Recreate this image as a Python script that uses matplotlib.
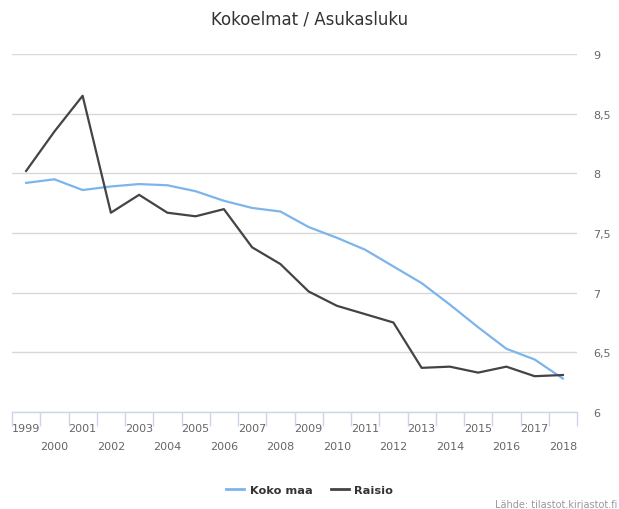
import matplotlib
matplotlib.use("Agg")
import matplotlib.pyplot as plt
import numpy as np
from matplotlib.ticker import FuncFormatter, FixedLocator
from matplotlib.lines import Line2D

years = [str(y) for y in range(1999, 2019)]
koko_maa = [7.92, 7.95, 7.86, 7.89, 7.91, 7.90, 7.85, 7.77, 7.71, 7.68,
            7.55, 7.46, 7.36, 7.22, 7.08, 6.90, 6.71, 6.53, 6.44, 6.28]
raisio = [8.02, 8.35, 8.65, 7.67, 7.82, 7.67, 7.64, 7.70, 7.38, 7.24,
          7.01, 6.89, 6.82, 6.75, 6.37, 6.38, 6.33, 6.38, 6.30, 6.31]
y_ticks = [6, 6.5, 7, 7.5, 8, 8.5, 9]

W, H = 619, 510
fig = plt.figure(figsize=(W / 100, H / 100), dpi=100)
ax = fig.add_axes([12 / W, 1 - 413 / H, (577 - 12) / W, (413 - 55) / H])

x = np.arange(len(years))
ax.plot(x, koko_maa, color="#7cb5ec", lw=1.6, solid_joinstyle="round", zorder=3)
ax.plot(x, raisio, color="#434348", lw=1.6, solid_joinstyle="round", zorder=4)

ax.set_xlim(-0.5, len(years) - 0.5)
ax.set_ylim(6, 9)

# y axis on right
ax.yaxis.tick_right()
ax.yaxis.set_major_locator(FixedLocator(y_ticks))
ax.yaxis.set_major_formatter(FuncFormatter(lambda v, p: f"{v:g}".replace(".", ",")))
ax.tick_params(axis="y", length=0, pad=11.5, labelsize=8, labelcolor="#666666")
ax.grid(axis="y", color="#d8d8d8", lw=1)
ax.set_axisbelow(True)

# x axis
ax.set_xticks(x)
labels = [y if i % 2 == 0 else "\n" + y for i, y in enumerate(years)]
ax.set_xticklabels(labels)
ax.set_xticks(np.arange(-0.5, len(years), 1), minor=True)
ax.tick_params(axis="x", which="major", length=0, pad=8, labelsize=8, labelcolor="#666666")
ax.tick_params(axis="x", which="minor", length=10, width=1, color="#ccd6eb")
for lbl in ax.get_xticklabels():
    lbl.set_linespacing(1.95)

for s in ["top", "left", "right"]:
    ax.spines[s].set_visible(False)
ax.spines["bottom"].set_color("#ccd6eb")
ax.spines["bottom"].set_linewidth(1)

fig.text(0.5, 1 - 20 / H, "Kokoelmat / Asukasluku", ha="center", va="center",
         fontsize=12, color="#333333")

handles = [Line2D([], [], color="#7cb5ec", lw=2),
           Line2D([], [], color="#434348", lw=2)]
fig.legend(handles, ["Koko maa", "Raisio"], loc="center",
           bbox_to_anchor=(0.5, 1 - 491 / H), ncol=2, frameon=False,
           prop={"weight": "bold", "size": 8.2}, labelcolor="#333333",
           handlelength=1.6, handletextpad=0.5, columnspacing=1.6)

fig.text(617 / W, 1 - 505 / H, "Lähde: tilastot.kirjastot.fi", ha="right",
         va="center", fontsize=7, color="#999999")

fig.savefig("out.png", dpi=100)
